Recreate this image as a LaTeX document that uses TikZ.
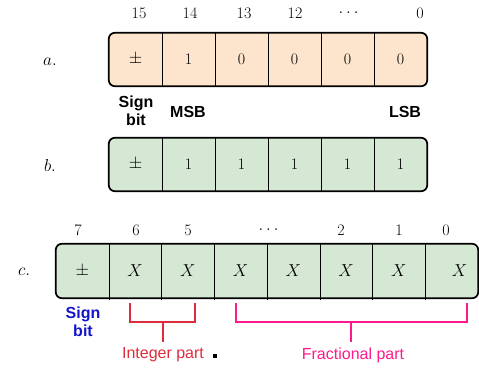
\documentclass[tikz,border=0pt]{standalone}
\usepackage{amsmath,amssymb}
\usepackage{fontspec}
\setsansfont{Liberation Sans}
\usetikzlibrary{positioning,backgrounds}
\definecolor{cellorange}{HTML}{FDE5CD}
\definecolor{cellgreen}{HTML}{D5E8D4}
\definecolor{intred}{HTML}{DD2C3C}
\definecolor{fracpink}{HTML}{FF1A8C}
\definecolor{signblue}{HTML}{1414CC}
\tikzset{
  cell/.style={minimum width=53pt, minimum height=53pt, inner sep=0pt,
    font=\fontsize{16}{18}\selectfont},
  bitno/.style={font=\fontsize{16}{18}\selectfont},
  rowlbl/.style={font=\fontsize{16}{18}\selectfont},
  lbl/.style={font=\fontsize{16}{18.5}\selectfont\sffamily\bfseries, align=center},
  part/.style={font=\fontsize{16}{18}\selectfont\sffamily},
  frame/.style={line width=1.7pt, rounded corners=6pt},
  divider/.style={line width=0.7pt},
  brace/.style={line width=1.1pt},
}

\begin{document}
\begin{tikzpicture}[x=1pt,y=-1pt]
\useasboundingbox (0,0) rectangle (479,367);
%\draw [help lines] (0,0) grid (479,367);

% row a
\foreach \v [count=\i] in {$\pm$,1,0,0,0,0}
  \node [cell] (a\i) at ({82.5+53*\i},59.5) {\v};
\foreach \i in {1,...,5}
  \draw [divider] (a\i.north east)--(a\i.south east);
\draw [frame] (a1.north west) rectangle (a6.south east);
\begin{scope}[on background layer]
  \fill [cellorange, rounded corners=6pt] (a1.north west) rectangle (a6.south east);
\end{scope}
\node [rowlbl] (la) at (50,62) {$a.$};
\node [bitno] (na1) at (139,13) {15};
\node [bitno] (na2) at (190,13) {14};
\node [bitno] (na3) at (244,13) {13};
\node [bitno] (na4) at (295,13) {12};
\node [bitno] (na5) at (350,13) {$\dots$};
\node [bitno] (na6) at (420,13) {0};
\node [lbl] (signa) at (136,111) {Sign\\bit};
\node [lbl] (msb) at (188,112) {MSB};
\node [lbl] (lsb) at (405,112) {LSB};

% row b
\foreach \v [count=\i] in {$\pm$,1,1,1,1,1}
  \node [cell] (b\i) at ({82.5+53*\i},164.5) {\v};
\foreach \i in {1,...,5}
  \draw [divider] (b\i.north east)--(b\i.south east);
\draw [frame] (b1.north west) rectangle (b6.south east);
\begin{scope}[on background layer]
  \fill [cellgreen, rounded corners=6pt] (b1.north west) rectangle (b6.south east);
\end{scope}
\node [rowlbl] (lb) at (50,165) {$b.$};

% row c
\foreach \v [count=\i] in {$\pm$,$X$,$X$,$X$,$X$,$X$,$X$,\hspace{16pt}$X$}
  \node [cell, minimum width=52.75pt, minimum height=54pt] (c\i) at ({29.6+52.75*\i},271) {\v};
\foreach \i in {1,...,7}
  \draw [divider] (c\i.north east)--([yshift=-2pt]c\i.south east);
\draw [frame] (c1.north west) rectangle (c8.south east);
\begin{scope}[on background layer]
  \fill [cellgreen, rounded corners=6pt] (c1.north west) rectangle (c8.south east);
\end{scope}
\node [rowlbl] (lc) at (24,272) {$c.$};
\node [bitno] (nc1) at (78,230) {7};
\node [bitno] (nc2) at (136,230) {6};
\node [bitno] (nc3) at (188,230) {5};
\node [bitno] (nc4) at (270,230) {$\dots$};
\node [bitno] (nc5) at (341,230) {2};
\node [bitno] (nc6) at (399,230) {1};
\node [bitno] (nc7) at (446,230) {0};
\node [lbl, signblue] (signc) at (83,322) {Sign\\bit};

% integer / fractional parts
\node [part, intred] (intlbl) at (163,355) {Integer part};
\node [part, fracpink] (fraclbl) at (353,355) {Fractional part};
\coordinate (int1) at (130,303);
\coordinate (int2) at (195,303);
\coordinate (frac1) at (236,303);
\coordinate (frac2) at (467,303);
\draw [brace, intred] (int1)--++(0,19)-|(int2);
\draw [brace, intred] (intlbl.north|-0,322)--(intlbl.north|-0,342);
\draw [brace, fracpink] (frac1)--++(0,19)-|(frac2);
\draw [brace, fracpink] (351,322)--(351,342);
\fill (213,354) rectangle (217,358);
\end{tikzpicture}
\end{document}
